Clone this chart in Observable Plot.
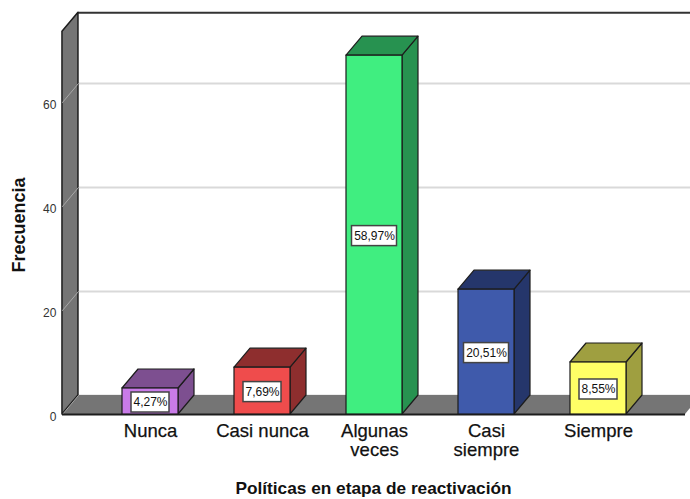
<!DOCTYPE html>
<html><head><meta charset="utf-8">
<script src="https://cdn.jsdelivr.net/npm/d3@7"></script>
<script src="https://cdn.jsdelivr.net/npm/@observablehq/plot@0.6"></script>
<style>html,body{margin:0;padding:0;background:#fff}svg{display:block}</style>
</head><body><div id="chart"></div>
<script>
const categories = ["Nunca","Casi nunca","Algunas\nveces","Casi\nsiempre","Siempre"];
const counts = [5,9,69,24,10];
const percents = ["4,27%","7,69%","58,97%","20,51%","8,55%"];
const fronts = ["#c97be8","#ef4c4c","#40ee80","#3f5aab","#ffff66"];
const shades = ["#7d4f90","#8e2e2e","#279250","#25366b","#9f9f40"];
const yTicks = [0,20,40,60];

const bars = categories.map((c,i)=>({i,c,v:counts[i],p:percents[i],f:fronts[i],s:shades[i]}));
// Scale geometry: one category = 112px, 20 counts = 104px
const halfBar = 0.25, dX = 16/112, dY = 19/5.2, wallL = -0.786, wallR = 4.777, wallTop = 73.6;
const series = (pts,k)=>pts.map(p=>({...p,k}));
const side = bars.flatMap(b=>series([
  {x:b.i+halfBar,y1:0,y2:b.v,s:b.s},
  {x:b.i+halfBar+dX,y1:dY,y2:b.v+dY,s:b.s}],b.i));
const topFace = bars.flatMap(b=>series([
  {y:b.v,x1:b.i-halfBar,x2:b.i+halfBar,s:b.s},
  {y:b.v+dY,x1:b.i-halfBar+dX,x2:b.i+halfBar+dX,s:b.s}],b.i));
const wall = [{x:wallL,y1:0,y2:wallTop},{x:wallL+dX,y1:dY,y2:wallTop+dY}];
const floor = [{y:0,x1:wallL,x2:wallR},{y:dY,x1:wallL+dX,x2:wallR+dX}];
const dark = "#1c1c1c";
const gridBack = yTicks.map(v=>({y:v+dY}));
const gridWall = yTicks.flatMap(v=>[{x:wallL,y:v,k:v},{x:wallL+dX,y:v+dY,k:v}]);

const plot = Plot.plot({
  width:690,height:499,margin:0,
  style:{fontFamily:"'Liberation Sans',Arial,sans-serif",background:"#fff",color:"#111"},
  x:{domain:[0,4],range:[150,598],axis:null},
  y:{domain:[0,60],range:[414,102],axis:null},
  marks:[
    Plot.ruleY(gridBack,{y:"y",x1:wallL+dX,x2:5,stroke:"#d9d9d9",strokeWidth:2}),
    Plot.ruleY([wallTop+dY],{x1:wallL+dX,x2:5,stroke:"#333",strokeWidth:2}),
    Plot.areaX(floor,{y:"y",x1:"x1",x2:"x2",fill:"#757575"}),
    Plot.areaY(wall,{x:"x",y1:"y1",y2:"y2",fill:"#757575",stroke:dark,strokeWidth:1.5}),
    Plot.line(gridWall,{x:"x",y:"y",z:"k",stroke:"#a8a8a8",strokeWidth:1}),
    Plot.ruleY([0],{x1:wallL,x2:wallR,stroke:dark,strokeWidth:2}),
    Plot.areaY(side,{x:"x",y1:"y1",y2:"y2",z:"k",fill:"s",stroke:dark,strokeWidth:1.2}),
    Plot.areaX(topFace,{y:"y",x1:"x1",x2:"x2",z:"k",fill:"s",stroke:dark,strokeWidth:1.2}),
    Plot.rectY(bars,{x1:d=>d.i-halfBar,x2:d=>d.i+halfBar,y1:0,y2:"v",fill:"f",stroke:dark,strokeWidth:1.2}),
    Plot.rect(bars,{
      x1:d=>d.i-(d.p.length>5?22.5:19)/112,x2:d=>d.i+(d.p.length>5?22.5:19)/112,
      y1:d=>d.v/2-10/5.2,y2:d=>d.v/2+10/5.2,dy:1,fill:"#fff",stroke:"#444",strokeWidth:1.5}),
    Plot.text(bars,{x:"i",y:d=>d.v/2,dy:1,text:"p",fontSize:12,fill:"#111"}),
    Plot.text(yTicks,{x:wallL,y:d=>d,dy:3,dx:-6,text:d=>String(d),textAnchor:"end",fontSize:12,fill:"#333"}),
    Plot.text(categories,{x:(d,i)=>i,y:0,dy:9,text:d=>d,lineAnchor:"top",lineHeight:1.03,fontSize:18.5,fontWeight:500,fill:"#111",stroke:"#111",strokeWidth:0.25}),
    Plot.text(["Políticas en etapa de reactivación"],{x:2,frameAnchor:"bottom",dx:-1,dy:-6,fontSize:17.25,fontWeight:"bold",fill:"#111",lineAnchor:"bottom"}),
    Plot.text(["Frecuencia"],{frameAnchor:"left",dx:19,dy:22.5,rotate:-90,fontSize:18,fontWeight:"bold",fill:"#111"})
  ]
});
document.getElementById("chart").append(plot);
</script></body></html>
